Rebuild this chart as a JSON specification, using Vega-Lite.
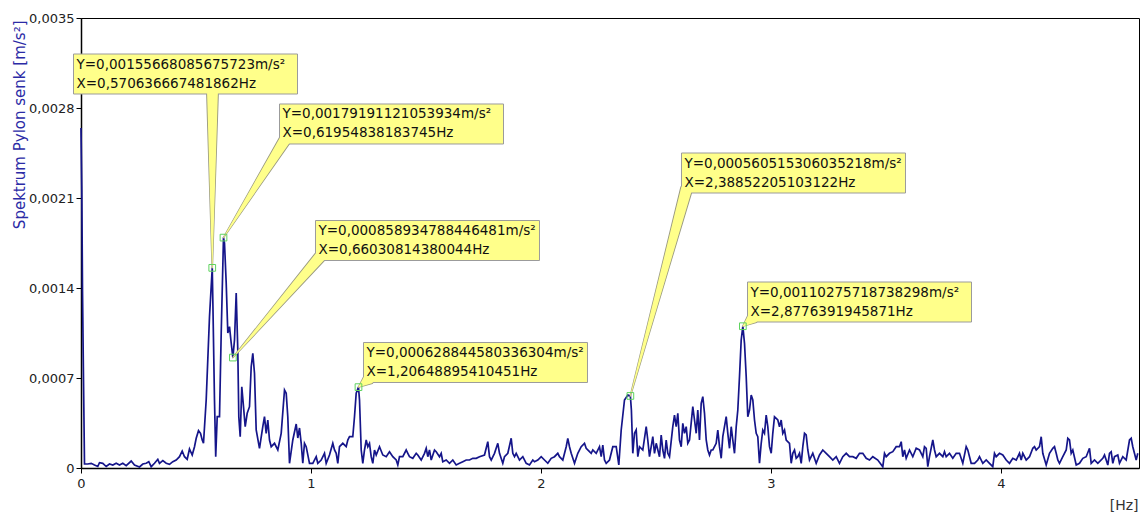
{
"$schema": "https://vega.github.io/schema/vega-lite/v6.json",
"width": 1058, "height": 450,
"autosize": "none",
"padding": {"left": 81, "top": 18, "right": 1, "bottom": 47},
"background": "white",
"config": {"view": {"stroke": "#000", "strokeWidth": 1}, "font": "DejaVu Sans"},
"datasets": {
"spec": [
{"freq":0,"amp":0.0026444},{"freq":0.0035,"amp":0.0021622},{"freq":0.0065,"amp":0.0013844},{"freq":0.0109,"amp":0.0006844},{"freq":0.0152,"amp":0.0000311},{"freq":0.0296,"amp":0.0000311},{"freq":0.0443,"amp":0.0000366},{"freq":0.0587,"amp":0.0000233},{"freq":0.073,"amp":0.0000117},{"freq":0.0804,"amp":0.0000412},{"freq":0.0948,"amp":0.0000366},{"freq":0.1096,"amp":0.0000117},{"freq":0.1239,"amp":0.0000311},{"freq":0.1383,"amp":0.0000233},{"freq":0.153,"amp":0.0000366},{"freq":0.1674,"amp":0.0000233},{"freq":0.1817,"amp":0.0000366},{"freq":0.1965,"amp":0.0000179},{"freq":0.2183,"amp":0.0000544},{"freq":0.2326,"amp":0.0000233},{"freq":0.2543,"amp":0.0000078},{"freq":0.2687,"amp":0.0000311},{"freq":0.2835,"amp":0.0000366},{"freq":0.2948,"amp":0.000049},{"freq":0.3052,"amp":0.0000101},{"freq":0.3196,"amp":0.0000366},{"freq":0.3339,"amp":0.0000677},{"freq":0.3413,"amp":0.0000366},{"freq":0.3557,"amp":0.0000568},{"freq":0.3704,"amp":0.0000366},{"freq":0.3848,"amp":0.0000288},{"freq":0.3991,"amp":0.000049},{"freq":0.4139,"amp":0.0000622},{"freq":0.4283,"amp":0.0000879},{"freq":0.44,"amp":0.0001322},{"freq":0.45,"amp":0.0000879},{"freq":0.4617,"amp":0.0000677},{"freq":0.4717,"amp":0.0001478},{"freq":0.4835,"amp":0.0001011},{"freq":0.4935,"amp":0.0001657},{"freq":0.5009,"amp":0.000231},{"freq":0.5109,"amp":0.0002901},{"freq":0.5196,"amp":0.0002699},{"freq":0.527,"amp":0.0002178},{"freq":0.5326,"amp":0.0001921},{"freq":0.5443,"amp":0.0005289},{"freq":0.5587,"amp":0.0011768},{"freq":0.570637,"amp":0.0015567},{"freq":0.5739,"amp":0.0012289},{"freq":0.5804,"amp":0.0005289},{"freq":0.5857,"amp":0.0000879},{"freq":0.5922,"amp":0.000399},{"freq":0.6022,"amp":0.000399},{"freq":0.6096,"amp":0.0010477},{"freq":0.619548,"amp":0.0017919},{"freq":0.6239,"amp":0.00175},{"freq":0.6313,"amp":0.0014389},{"freq":0.6383,"amp":0.00105},{"freq":0.6457,"amp":0.001099},{"freq":0.653,"amp":0.0009722},{"freq":0.660308,"amp":0.0008589},{"freq":0.6674,"amp":0.0009956},{"freq":0.6748,"amp":0.0013611},{"freq":0.6817,"amp":0.0009178},{"freq":0.6861,"amp":0.000399},{"freq":0.6922,"amp":0.0002434},{"freq":0.6991,"amp":0.0006323},{"freq":0.7065,"amp":0.0004768},{"freq":0.7139,"amp":0.0003212},{"freq":0.7226,"amp":0.0004254},{"freq":0.7326,"amp":0.0004768},{"freq":0.74,"amp":0.0007879},{"freq":0.747,"amp":0.0008921},{"freq":0.7543,"amp":0.0007366},{"freq":0.7617,"amp":0.0002956},{"freq":0.7761,"amp":0.0001532},{"freq":0.7904,"amp":0.0003212},{"freq":0.7978,"amp":0.000399},{"freq":0.8052,"amp":0.0002699},{"freq":0.8122,"amp":0.0003733},{"freq":0.8196,"amp":0.0002178},{"freq":0.827,"amp":0.0001657},{"freq":0.8413,"amp":0.0001921},{"freq":0.8557,"amp":0.00014},{"freq":0.8704,"amp":0.0002699},{"freq":0.8848,"amp":0.0006067},{"freq":0.8922,"amp":0.000581},{"freq":0.8991,"amp":0.000399},{"freq":0.9065,"amp":0.0000366},{"freq":0.9209,"amp":0.0002178},{"freq":0.9357,"amp":0.0003422},{"freq":0.9426,"amp":0.0002333},{"freq":0.95,"amp":0.0003111},{"freq":0.9574,"amp":0.0001921},{"freq":0.9643,"amp":0.0000366},{"freq":0.9717,"amp":0.0001921},{"freq":0.9791,"amp":0.0001657},{"freq":0.9935,"amp":0.0000366},{"freq":1.0078,"amp":0.0000366},{"freq":1.0226,"amp":0.0000879},{"freq":1.0296,"amp":0.0000366},{"freq":1.0443,"amp":0.0000622},{"freq":1.0587,"amp":0.0001143},{"freq":1.0661,"amp":0.0000366},{"freq":1.0804,"amp":0.0001011},{"freq":1.0948,"amp":0.0001921},{"freq":1.1022,"amp":0.00014},{"freq":1.1096,"amp":0.0001143},{"freq":1.1165,"amp":0.0000366},{"freq":1.1239,"amp":0.0001657},{"freq":1.1383,"amp":0.0001921},{"freq":1.153,"amp":0.0001657},{"freq":1.16,"amp":0.0002178},{"freq":1.1674,"amp":0.0002434},{"freq":1.1817,"amp":0.0002434},{"freq":1.1891,"amp":0.000399},{"freq":1.1965,"amp":0.000581},{"freq":1.206489,"amp":0.0006288},{"freq":1.2109,"amp":0.0005289},{"freq":1.2183,"amp":0.00014},{"freq":1.2252,"amp":0.0000366},{"freq":1.2326,"amp":0.00014},{"freq":1.24,"amp":0.0002178},{"freq":1.247,"amp":0.0001657},{"freq":1.2543,"amp":0.0001921},{"freq":1.2617,"amp":0.0000879},{"freq":1.2687,"amp":0.0000366},{"freq":1.2761,"amp":0.00014},{"freq":1.2835,"amp":0.0001011},{"freq":1.2978,"amp":0.0001657},{"freq":1.3122,"amp":0.0001011},{"freq":1.327,"amp":0.0000879},{"freq":1.3413,"amp":0.0001268},{"freq":1.3557,"amp":0.0000879},{"freq":1.3704,"amp":0.0000622},{"freq":1.3774,"amp":0.0000233},{"freq":1.3848,"amp":0.0000879},{"freq":1.3991,"amp":0.0000879},{"freq":1.4139,"amp":0.00014},{"freq":1.4209,"amp":0.0001143},{"freq":1.4283,"amp":0.0000879},{"freq":1.4426,"amp":0.0000754},{"freq":1.4574,"amp":0.0001143},{"freq":1.4643,"amp":0.0001011},{"freq":1.4791,"amp":0.0000622},{"freq":1.4935,"amp":0.0001143},{"freq":1.5009,"amp":0.0001532},{"freq":1.5078,"amp":0.0000879},{"freq":1.5152,"amp":0.00014},{"freq":1.5226,"amp":0.0000622},{"freq":1.537,"amp":0.00014},{"freq":1.5443,"amp":0.0001268},{"freq":1.5587,"amp":0.0000879},{"freq":1.5661,"amp":0.0001143},{"freq":1.573,"amp":0.000049},{"freq":1.5878,"amp":0.0000622},{"freq":1.6022,"amp":0.0000366},{"freq":1.6165,"amp":0.0000622},{"freq":1.6313,"amp":0.0000233},{"freq":1.6457,"amp":0.0000366},{"freq":1.66,"amp":0.000049},{"freq":1.6748,"amp":0.0000622},{"freq":1.6891,"amp":0.0000622},{"freq":1.7035,"amp":0.0000754},{"freq":1.7183,"amp":0.0000754},{"freq":1.7326,"amp":0.0000879},{"freq":1.7543,"amp":0.0001011},{"freq":1.7687,"amp":0.0002046},{"freq":1.7761,"amp":0.0000879},{"freq":1.7835,"amp":0.0000622},{"freq":1.7978,"amp":0.0001143},{"freq":1.8122,"amp":0.0001921},{"freq":1.8196,"amp":0.0001143},{"freq":1.8339,"amp":0.0000366},{"freq":1.8413,"amp":0.0000879},{"freq":1.8557,"amp":0.0001143},{"freq":1.8704,"amp":0.000231},{"freq":1.8774,"amp":0.0001143},{"freq":1.8848,"amp":0.0000879},{"freq":1.8922,"amp":0.0001143},{"freq":1.9065,"amp":0.0000622},{"freq":1.9209,"amp":0.0000879},{"freq":1.9357,"amp":0.0000366},{"freq":1.95,"amp":0.0000233},{"freq":1.9643,"amp":0.0000622},{"freq":1.9717,"amp":0.000049},{"freq":1.9861,"amp":0.0000622},{"freq":2.0009,"amp":0.0000879},{"freq":2.0152,"amp":0.0000622},{"freq":2.0296,"amp":0.0000366},{"freq":2.0443,"amp":0.0000754},{"freq":2.0587,"amp":0.0000879},{"freq":2.073,"amp":0.0001143},{"freq":2.0804,"amp":0.0000879},{"freq":2.0948,"amp":0.0000622},{"freq":2.1096,"amp":0.0001657},{"freq":2.1165,"amp":0.000231},{"freq":2.1239,"amp":0.0001657},{"freq":2.1313,"amp":0.0001143},{"freq":2.1457,"amp":0.0000366},{"freq":2.16,"amp":0.0001143},{"freq":2.1748,"amp":0.0001657},{"freq":2.1891,"amp":0.0001921},{"freq":2.1965,"amp":0.0001532},{"freq":2.2109,"amp":0.0001268},{"freq":2.2183,"amp":0.0001143},{"freq":2.2252,"amp":0.00014},{"freq":2.24,"amp":0.0001143},{"freq":2.2543,"amp":0.0001657},{"freq":2.2617,"amp":0.0000879},{"freq":2.2687,"amp":0.0001789},{"freq":2.2761,"amp":0.0000622},{"freq":2.2835,"amp":0.0000366},{"freq":2.2978,"amp":0.0000622},{"freq":2.3122,"amp":0.0001657},{"freq":2.327,"amp":0.0001657},{"freq":2.3383,"amp":0.0000233},{"freq":2.3487,"amp":0.0002956},{"freq":2.363,"amp":0.0005289},{"freq":2.3774,"amp":0.0005680},{"freq":2.388522,"amp":0.0005605},{"freq":2.393,"amp":0.000451},{"freq":2.3991,"amp":0.0001143},{"freq":2.4065,"amp":0.0002699},{"freq":2.4139,"amp":0.0002956},{"freq":2.4209,"amp":0.0000879},{"freq":2.4283,"amp":0.0001657},{"freq":2.4426,"amp":0.00014},{"freq":2.4574,"amp":0.0003212},{"freq":2.4643,"amp":0.0002178},{"freq":2.4717,"amp":0.0000879},{"freq":2.4791,"amp":0.0001657},{"freq":2.4861,"amp":0.0002434},{"freq":2.4935,"amp":0.0001143},{"freq":2.5009,"amp":0.0001921},{"freq":2.5152,"amp":0.0000879},{"freq":2.5226,"amp":0.0002567},{"freq":2.5296,"amp":0.00014},{"freq":2.537,"amp":0.0000754},{"freq":2.5443,"amp":0.0002178},{"freq":2.5513,"amp":0.0001143},{"freq":2.5587,"amp":0.0000879},{"freq":2.573,"amp":0.0003212},{"freq":2.5804,"amp":0.0004122},{"freq":2.5878,"amp":0.0003212},{"freq":2.5948,"amp":0.0004254},{"freq":2.6022,"amp":0.0002178},{"freq":2.6096,"amp":0.0001657},{"freq":2.6165,"amp":0.0003477},{"freq":2.6239,"amp":0.0002699},{"freq":2.6313,"amp":0.0003212},{"freq":2.6383,"amp":0.0001921},{"freq":2.6457,"amp":0.0002178},{"freq":2.66,"amp":0.0004768},{"freq":2.6674,"amp":0.0003733},{"freq":2.6748,"amp":0.0002699},{"freq":2.6817,"amp":0.0004511},{"freq":2.6891,"amp":0.0002178},{"freq":2.6965,"amp":0.0005032},{"freq":2.7035,"amp":0.0005546},{"freq":2.7109,"amp":0.0004254},{"freq":2.7183,"amp":0.0002178},{"freq":2.7252,"amp":0.00014},{"freq":2.7326,"amp":0.0001011},{"freq":2.74,"amp":0.00014},{"freq":2.747,"amp":0.00014},{"freq":2.7617,"amp":0.0001921},{"freq":2.7687,"amp":0.0002956},{"freq":2.7761,"amp":0.0001657},{"freq":2.7835,"amp":0.0000754},{"freq":2.7904,"amp":0.0002434},{"freq":2.7978,"amp":0.0003212},{"freq":2.8052,"amp":0.000399},{"freq":2.8122,"amp":0.0002699},{"freq":2.8196,"amp":0.0001532},{"freq":2.827,"amp":0.0003212},{"freq":2.8339,"amp":0.0002178},{"freq":2.8413,"amp":0.0001143},{"freq":2.8487,"amp":0.0003212},{"freq":2.8557,"amp":0.0004511},{"freq":2.863,"amp":0.0007101},{"freq":2.8704,"amp":0.0009956},{"freq":2.877639,"amp":0.0011028},{"freq":2.8848,"amp":0.0009699},{"freq":2.8922,"amp":0.0007101},{"freq":2.8991,"amp":0.000399},{"freq":2.9065,"amp":0.0004511},{"freq":2.9139,"amp":0.0005678},{"freq":2.9209,"amp":0.0005289},{"freq":2.9283,"amp":0.0003733},{"freq":2.9357,"amp":0.0002699},{"freq":2.9426,"amp":0.0002434},{"freq":2.95,"amp":0.0000366},{"freq":2.9574,"amp":0.0001921},{"freq":2.9643,"amp":0.0002956},{"freq":2.9717,"amp":0.0002699},{"freq":2.9791,"amp":0.0004122},{"freq":2.9861,"amp":0.0003212},{"freq":2.9935,"amp":0.0001657},{"freq":3.0009,"amp":0.0001143},{"freq":3.0078,"amp":0.0002699},{"freq":3.0152,"amp":0.000399},{"freq":3.0226,"amp":0.0003866},{"freq":3.0296,"amp":0.0003733},{"freq":3.037,"amp":0.0003212},{"freq":3.0443,"amp":0.0003733},{"freq":3.0513,"amp":0.0002699},{"freq":3.0587,"amp":0.0002956},{"freq":3.0661,"amp":0.0002178},{"freq":3.0804,"amp":0.0001921},{"freq":3.0878,"amp":0.0000366},{"freq":3.0948,"amp":0.0001143},{"freq":3.1022,"amp":0.00014},{"freq":3.1096,"amp":0.0000754},{"freq":3.1165,"amp":0.0000879},{"freq":3.1239,"amp":0.0001143},{"freq":3.1313,"amp":0.0000366},{"freq":3.1383,"amp":0.0001657},{"freq":3.1457,"amp":0.0002699},{"freq":3.153,"amp":0.0002567},{"freq":3.16,"amp":0.00014},{"freq":3.1674,"amp":0.0000622},{"freq":3.1817,"amp":0.0001143},{"freq":3.1965,"amp":0.0000366},{"freq":3.2109,"amp":0.0001011},{"freq":3.2252,"amp":0.00014},{"freq":3.24,"amp":0.0001143},{"freq":3.2543,"amp":0.0000879},{"freq":3.2687,"amp":0.0000622},{"freq":3.2835,"amp":0.0000879},{"freq":3.2978,"amp":0.0000366},{"freq":3.3122,"amp":0.0000879},{"freq":3.327,"amp":0.0001143},{"freq":3.3413,"amp":0.0000879},{"freq":3.3557,"amp":0.0000879},{"freq":3.3704,"amp":0.0000754},{"freq":3.3848,"amp":0.0001143},{"freq":3.3991,"amp":0.0001143},{"freq":3.4139,"amp":0.0000754},{"freq":3.4283,"amp":0.0000622},{"freq":3.4426,"amp":0.0000879},{"freq":3.4643,"amp":0.0000622},{"freq":3.4861,"amp":0.0000101},{"freq":3.4935,"amp":0.0001143},{"freq":3.5009,"amp":0.0000879},{"freq":3.5152,"amp":0.0001143},{"freq":3.5296,"amp":0.0001268},{"freq":3.5443,"amp":0.0001657},{"freq":3.5587,"amp":0.0001657},{"freq":3.5661,"amp":0.0002046},{"freq":3.573,"amp":0.0000879},{"freq":3.5804,"amp":0.00014},{"freq":3.5878,"amp":0.0000754},{"freq":3.6022,"amp":0.00014},{"freq":3.6165,"amp":0.0000879},{"freq":3.6313,"amp":0.0001532},{"freq":3.6457,"amp":0.00014},{"freq":3.66,"amp":0.0000879},{"freq":3.6674,"amp":0.0001657},{"freq":3.6748,"amp":0.0001532},{"freq":3.6817,"amp":0.0000101},{"freq":3.6891,"amp":0.0000879},{"freq":3.7035,"amp":0.0002178},{"freq":3.7109,"amp":0.00014},{"freq":3.7183,"amp":0.0000879},{"freq":3.7326,"amp":0.0001143},{"freq":3.747,"amp":0.0000879},{"freq":3.7543,"amp":0.0001268},{"freq":3.7617,"amp":0.0000879},{"freq":3.7761,"amp":0.0001143},{"freq":3.7904,"amp":0.0000754},{"freq":3.8052,"amp":0.0001143},{"freq":3.8196,"amp":0.0001143},{"freq":3.8339,"amp":0.0000366},{"freq":3.8487,"amp":0.0001657},{"freq":3.8557,"amp":0.00014},{"freq":3.8704,"amp":0.0000366},{"freq":3.8848,"amp":0.0000366},{"freq":3.8991,"amp":0.0000622},{"freq":3.9065,"amp":0.0000879},{"freq":3.9209,"amp":0.0000366},{"freq":3.9357,"amp":0.0000622},{"freq":3.95,"amp":0.0000366},{"freq":3.9643,"amp":0.0000101},{"freq":3.9717,"amp":0.0001143},{"freq":3.9791,"amp":0.0000879},{"freq":3.9935,"amp":0.0001143},{"freq":4.0078,"amp":0.0001011},{"freq":4.0226,"amp":0.0000622},{"freq":4.037,"amp":0.0000366},{"freq":4.0513,"amp":0.0000754},{"freq":4.0661,"amp":0.0000622},{"freq":4.0804,"amp":0.0001143},{"freq":4.0878,"amp":0.0000622},{"freq":4.0948,"amp":0.0001143},{"freq":4.1096,"amp":0.0000622},{"freq":4.1239,"amp":0.0000879},{"freq":4.1383,"amp":0.0001532},{"freq":4.1457,"amp":0.0001657},{"freq":4.153,"amp":0.00014},{"freq":4.1674,"amp":0.0001657},{"freq":4.1748,"amp":0.0002434},{"freq":4.1817,"amp":0.0001143},{"freq":4.1965,"amp":0.0000233},{"freq":4.2109,"amp":0.0001143},{"freq":4.2252,"amp":0.0001532},{"freq":4.2326,"amp":0.0001657},{"freq":4.24,"amp":0.0001143},{"freq":4.247,"amp":0.0000622},{"freq":4.2543,"amp":0.0000366},{"freq":4.2687,"amp":0.0000879},{"freq":4.2835,"amp":0.00014},{"freq":4.2904,"amp":0.000231},{"freq":4.2978,"amp":0.0002178},{"freq":4.3052,"amp":0.0001143},{"freq":4.3122,"amp":0.00014},{"freq":4.327,"amp":0.0000233},{"freq":4.3413,"amp":0.0000366},{"freq":4.3557,"amp":0.0000754},{"freq":4.3704,"amp":0.0000879},{"freq":4.3848,"amp":0.0001532},{"freq":4.3922,"amp":0.0000366},{"freq":4.4065,"amp":0.0000622},{"freq":4.4209,"amp":0.0000366},{"freq":4.4426,"amp":0.0000754},{"freq":4.45,"amp":0.0001011},{"freq":4.4574,"amp":0.0000622},{"freq":4.4643,"amp":0.0000233},{"freq":4.4717,"amp":0.0001143},{"freq":4.4791,"amp":0.0001268},{"freq":4.4861,"amp":0.0000366},{"freq":4.4935,"amp":0.0000879},{"freq":4.5078,"amp":0.0001011},{"freq":4.5152,"amp":0.0000366},{"freq":4.5296,"amp":0.0000879},{"freq":4.5443,"amp":0.0000622},{"freq":4.5587,"amp":0.0002178},{"freq":4.5661,"amp":0.000231},{"freq":4.573,"amp":0.0001657},{"freq":4.5878,"amp":0.0000622},{"freq":4.5948,"amp":0.0001143}
],
"wedges": [
{"id":1,"end":0,"freq":0.570636667481862,"amp":0.00155668085675723},{"id":1,"end":1,"freq":0.5717,"amp":0.00294},
{"id":2,"end":0,"freq":0.61954838183745,"amp":0.00179191121053934},{"id":2,"end":1,"freq":0.8891,"amp":0.0025589},
{"id":3,"end":0,"freq":0.66030814380044,"amp":0.000858934788446481},{"id":3,"end":1,"freq":1.0457,"amp":0.0016567},
{"id":4,"end":0,"freq":1.20648895410451,"amp":0.000628844580336304},{"id":4,"end":1,"freq":1.25,"amp":0.0006922},
{"id":5,"end":0,"freq":2.38852205103122,"amp":0.000560515306035218},{"id":5,"end":1,"freq":2.6326,"amp":0.00217},
{"id":6,"end":0,"freq":2.8776391945871,"amp":0.00110275718738298},{"id":6,"end":1,"freq":2.9196,"amp":0.0011667}
],
"boxes": [
{"id":1,"freq":0.4544,"amp":0.0030644,"ytext":"Y=0,00155668085675723m/s²","xtext":"X=0,570636667481862Hz"},
{"id":2,"freq":1.35,"amp":0.0026756,"ytext":"Y=0,00179191121053934m/s²","xtext":"X=0,61954838183745Hz"},
{"id":3,"freq":1.5065,"amp":0.0017694,"ytext":"Y=0,000858934788446481m/s²","xtext":"X=0,66030814380044Hz"},
{"id":4,"freq":1.7152,"amp":0.0008206,"ytext":"Y=0,000628844580336304m/s²","xtext":"X=1,20648895410451Hz"},
{"id":5,"freq":3.0978,"amp":0.0022944,"ytext":"Y=0,000560515306035218m/s²","xtext":"X=2,38852205103122Hz"},
{"id":6,"freq":3.3848,"amp":0.0012911,"ytext":"Y=0,00110275718738298m/s²","xtext":"X=2,8776391945871Hz"}
]
},
"resolve": {"scale": {"size": "independent"}},
"layer": [
{
"data": {"name": "spec"},
"mark": {"type": "line", "color": "#15158a", "strokeWidth": 1.7},
"encoding": {
"x": {"field": "freq", "type": "quantitative", "scale": {"domain": [0, 4.6], "nice": false, "zero": false},
"axis": {"values": [0, 1, 2, 3, 4], "format": "d", "labelFlush": false, "grid": false, "tickSize": 5, "labelPadding": 4, "labelFontSize": 13, "labelColor": "#222", "domainColor": "#000", "domainWidth": 1.5, "tickColor": "#000",
"title": "[Hz]", "titleX": 1057, "titleY": 37, "titleAlign": "right", "titleBaseline": "middle", "titleFontSize": 14, "titleFontWeight": "normal", "titleColor": "#333"}},
"y": {"field": "amp", "type": "quantitative", "scale": {"domain": [0, 0.0035], "nice": false},
"axis": {"values": [0, 0.0007, 0.0014, 0.0021, 0.0028, 0.0035], "labelExpr": "datum.value == 0 ? '0' : replace(format(datum.value, '.4f'), '.', ',')", "grid": false, "tickSize": 5, "labelPadding": 2, "labelFontSize": 13, "labelColor": "#222", "domainColor": "#000", "domainWidth": 1.5, "tickColor": "#000",
"title": "Spektrum Pylon senk [m/s²]", "titleColor": "#2b2ba6", "titleFontSize": 15, "titleFontWeight": "normal", "titleAngle": 270, "titleX": -57, "titleY": 2, "titleAlign": "right", "titleBaseline": "alphabetic"}}
}
},
{
"data": {"name": "wedges"},
"mark": {"type": "trail", "color": "#9a9a80"},
"encoding": {
"x": {"field": "freq", "type": "quantitative"},
"y": {"field": "amp", "type": "quantitative"},
"detail": {"field": "id"},
"order": {"field": "end"},
"size": {"field": "end", "type": "quantitative", "scale": {"domain": [0, 1], "range": [1.6, 13]}, "legend": null}
}
},
{
"data": {"name": "boxes"},
"mark": {"type": "rect", "fill": "#ffff8a", "stroke": "#9b9b9b", "strokeWidth": 1, "xOffset": -112, "x2Offset": 112, "yOffset": -20, "y2Offset": 20},
"encoding": {
"x": {"field": "freq", "type": "quantitative"},
"x2": {"field": "freq"},
"y": {"field": "amp", "type": "quantitative"},
"y2": {"field": "amp"}
}
},
{
"data": {"name": "wedges"},
"mark": {"type": "trail", "color": "#ffff8a"},
"encoding": {
"x": {"field": "freq", "type": "quantitative"},
"y": {"field": "amp", "type": "quantitative"},
"detail": {"field": "id"},
"order": {"field": "end"},
"size": {"field": "end", "type": "quantitative", "scale": {"domain": [0, 1], "range": [0.5, 11]}, "legend": null}
}
},
{
"data": {"name": "boxes"},
"mark": {"type": "text", "align": "left", "baseline": "middle", "dx": -109, "dy": -9.5, "fontSize": 13.5, "color": "#111"},
"encoding": {
"x": {"field": "freq", "type": "quantitative"},
"y": {"field": "amp", "type": "quantitative"},
"text": {"field": "ytext"}
}
},
{
"data": {"name": "boxes"},
"mark": {"type": "text", "align": "left", "baseline": "middle", "dx": -109, "dy": 9.5, "fontSize": 13.5, "color": "#111"},
"encoding": {
"x": {"field": "freq", "type": "quantitative"},
"y": {"field": "amp", "type": "quantitative"},
"text": {"field": "xtext"}
}
},
{
"data": {"name": "wedges"},
"transform": [{"filter": "datum.end == 0"}],
"mark": {"type": "point", "shape": "square", "filled": false, "color": "#5fd35f", "size": 45, "strokeWidth": 1, "opacity": 1},
"encoding": {
"x": {"field": "freq", "type": "quantitative"},
"y": {"field": "amp", "type": "quantitative"}
}
}
]
}
